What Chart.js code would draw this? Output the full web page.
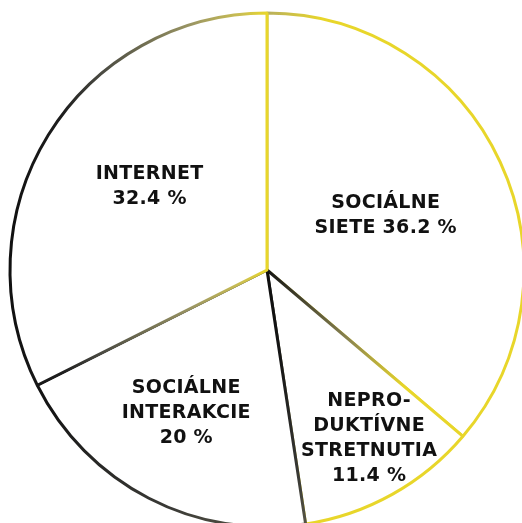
<!DOCTYPE html>
<html>
<head>
<meta charset="utf-8">
<script src="https://cdn.jsdelivr.net/npm/chart.js@4.4.0/dist/chart.umd.min.js"></script>
<style>
  html, body { margin: 0; padding: 0; background: #fff; overflow: hidden; width: 522px; height: 523px; }
  #wrap { position: absolute; left: 0; top: 0; }
</style>
</head>
<body>
<div id="wrap"><canvas id="pieChart" width="534" height="540"></canvas></div>
<script>
// data
const categories = ['SOCIÁLNE SIETE', 'NEPRODUKTÍVNE STRETNUTIA', 'SOCIÁLNE INTERAKCIE', 'INTERNET'];
const values = [36.2, 11.4, 20, 32.4];
const labelLines = [
  ['SOCIÁLNE', 'SIETE 36.2 %'],
  ['NEPRO-', 'DUKTÍVNE', 'STRETNUTIA', '11.4 %'],
  ['SOCIÁLNE', 'INTERAKCIE', '20 %'],
  ['INTERNET', '32.4 %']
];

const YELLOW = '#e8d62a';
// where to put the label: [angle from top in deg, fraction of radius]
const labelPos = [[65.5, 0.507], [148.9, 0.768], [209.5, 0.639], [305.4, 0.561]];

function centerOf(chart) {
  const a = chart.chartArea;
  return { x: (a.left + a.right) / 2, y: (a.top + a.bottom) / 2 };
}

function strokeFor(context) {
  const chart = context.chart;
  const ctx = chart.ctx;
  if (!chart.chartArea) return YELLOW;
  const c = centerOf(chart);
  let g;
  switch (context.dataIndex) {
    case 0:
      g = ctx.createLinearGradient(c.x - 5, 0, c.x + 55, 0);
      g.addColorStop(0, '#b3ab62');
      g.addColorStop(1, YELLOW);
      return g;
    case 1:
      g = ctx.createLinearGradient(c.x, c.y, c.x + 160, c.y + 140);
      g.addColorStop(0, '#141414');
      g.addColorStop(0.5, '#8a8450');
      g.addColorStop(0.85, YELLOW);
      g.addColorStop(1, YELLOW);
      return g;
    case 2:
      g = ctx.createLinearGradient(c.x, c.y, c.x + 60, c.y + 255);
      g.addColorStop(0, '#0e0e0e');
      g.addColorStop(0.35, '#161616');
      g.addColorStop(0.8, '#3a3a36');
      g.addColorStop(1, '#5a5848');
      return g;
    default:
      g = ctx.createLinearGradient(c.x - 255, 0, c.x, 0);
      g.addColorStop(0, '#111');
      g.addColorStop(0.2, '#1e1e1e');
      g.addColorStop(0.35, '#4a4a42');
      g.addColorStop(0.7, '#9a9563');
      g.addColorStop(0.9, '#cbbf52');
      g.addColorStop(1, YELLOW);
      return g;
  }
}

const labelPlugin = {
  id: 'sliceLabels',
  afterDatasetsDraw(chart) {
    const ctx = chart.ctx;
    const arcs = chart.getDatasetMeta(0).data;
    const spacing = 0.3;
    ctx.save();
    ctx.fillStyle = '#111';
    ctx.font = 'bold 19px "DejaVu Sans"';
    ctx.textAlign = 'center';
    ctx.textBaseline = 'middle';
    ctx.letterSpacing = spacing + 'px';
    arcs.forEach((arc, i) => {
      const r = arc.outerRadius * labelPos[i][1];
      const ang = labelPos[i][0] * Math.PI / 180;
      const x = arc.x + r * Math.sin(ang) + spacing / 2;
      const y = arc.y - r * Math.cos(ang);
      const lines = labelLines[i];
      const lh = 25;
      lines.forEach((t, k) => {
        ctx.fillText(t, x, y + (k - (lines.length - 1) / 2) * lh);
      });
    });
    ctx.restore();
  }
};

var ctx = document.getElementById('pieChart').getContext('2d');
var pieChart = new Chart(ctx, {
  type: 'pie',
  data: {
    labels: categories,
    datasets: [{
      data: values,
      backgroundColor: '#ffffff',
      borderColor: strokeFor,
      borderWidth: 3
    }]
  },
  options: {
    responsive: false,
    animation: false,
    radius: 257,
    layout: { padding: 0 },
    plugins: {
      legend: { display: false },
      tooltip: { enabled: false }
    }
  },
  plugins: [labelPlugin]
});
</script>
</body>
</html>
